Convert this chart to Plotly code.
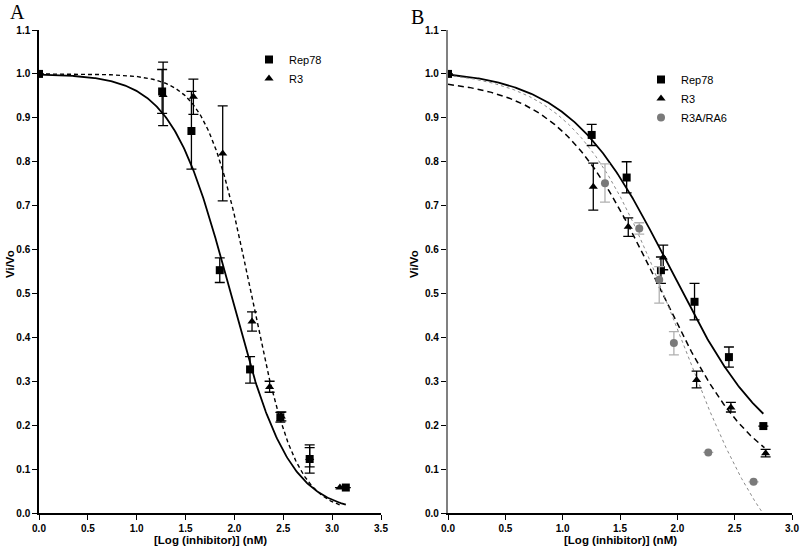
import numpy as np
import plotly.graph_objects as go

# ---------------- data: panel A ----------------
a_rep78_x = [0.0, 1.26, 1.56, 1.85, 2.16, 2.47, 2.77, 3.14]
a_rep78_y = [1.0, 0.96, 0.87, 0.553, 0.327, 0.218, 0.123, 0.058]
a_rep78_eu = [0, 0.05, 0.09, 0.028, 0.029, 0.011, 0.032, 0]
a_rep78_ed = [0, 0.05, 0.087, 0.028, 0.031, 0.011, 0.032, 0]

a_r3_x = [1.27, 1.58, 1.88, 2.18, 2.36, 2.48, 2.77, 3.08]
a_r3_y = [0.952, 0.948, 0.819, 0.436, 0.287, 0.22, 0.125, 0.058]
a_r3_eu = [0.075, 0.04, 0.108, 0.022, 0.013, 0.01, 0.024, 0]
a_r3_ed = [0.07, 0.04, 0.108, 0.022, 0.012, 0.01, 0.02, 0]

# fitted sigmoid parameters [bottom, top, logIC50, hill] and curve extent
a_rep78_fit = [0.0, 1.0, 1.96, 1.45]
a_rep78_xmax = 3.14
a_r3_fit = [0.0, 1.0, 2.17, 1.9]
a_r3_xmax = 3.08

# ---------------- data: panel B ----------------
b_rep78_x = [0.0, 1.253, 1.558, 1.857, 2.15, 2.45, 2.75]
b_rep78_y = [1.0, 0.861, 0.764, 0.553, 0.481, 0.355, 0.198]
b_rep78_eu = [0, 0.024, 0.036, 0.03, 0.042, 0.023, 0]
b_rep78_ed = [0, 0.024, 0.035, 0.03, 0.041, 0.023, 0]

b_r3_x = [1.267, 1.572, 1.877, 2.168, 2.467, 2.77]
b_r3_y = [0.743, 0.652, 0.582, 0.303, 0.24, 0.136]
b_r3_eu = [0.054, 0.02, 0.028, 0.02, 0.012, 0.009]
b_r3_ed = [0.053, 0.022, 0.028, 0.018, 0.01, 0.008]

b_ra_x = [1.369, 1.668, 1.842, 1.97, 2.27, 2.665]
b_ra_y = [0.751, 0.648, 0.531, 0.387, 0.138, 0.071]
b_ra_eu = [0.044, 0.013, 0.03, 0.026, 0, 0]
b_ra_ed = [0.043, 0.013, 0.053, 0.027, 0, 0]

b_rep78_fit = [0.1, 1.01, 1.94, 0.98]
b_rep78_xmax = 2.75
b_r3_fit = [0.05, 0.99, 1.83, 1.0]
b_r3_xmax = 2.76
b_ra_fit = [-0.2, 1.01, 2.02, 0.97]
b_ra_xmax = 2.735

x_ticks_a = [0.0, 0.5, 1.0, 1.5, 2.0, 2.5, 3.0, 3.5]
x_ticks_b = [0.0, 0.5, 1.0, 1.5, 2.0, 2.5, 3.0]
y_ticks = [0.0, 0.1, 0.2, 0.3, 0.4, 0.5, 0.6, 0.7, 0.8, 0.9, 1.0, 1.1]


def sigmoid(params, xmax):
    b, t, c, h = params
    xs = np.linspace(0, xmax, 300)
    return xs, b + (t - b) / (1 + 10 ** ((xs - c) * h))


FONT = "Liberation Sans, Arial, Helvetica, sans-serif"
fig = go.Figure()


def add_curve(params, xmax, xa, ya, color, width, dash):
    xs, ys = sigmoid(params, xmax)
    fig.add_trace(go.Scatter(x=xs, y=ys, mode="lines", xaxis=xa, yaxis=ya,
                             line=dict(color=color, width=width, dash=dash),
                             showlegend=False, hoverinfo="skip"))


def add_points(x, y, eu, ed, name, symbol, size, color, ecolor, xa, ya, legend):
    fig.add_trace(go.Scatter(
        x=x, y=y, mode="markers", name=name, xaxis=xa, yaxis=ya, legend=legend,
        marker=dict(symbol=symbol, size=size, color=color, line=dict(width=0)),
        error_y=dict(type="data", symmetric=False, array=eu, arrayminus=ed,
                     color=ecolor, thickness=1.3, width=5)))


# panel A
add_curve(a_rep78_fit, a_rep78_xmax, "x", "y", "black", 1.8, "solid")
add_curve(a_r3_fit, a_r3_xmax, "x", "y", "black", 1.4, "4px,3px")
add_points(a_rep78_x, a_rep78_y, a_rep78_eu, a_rep78_ed, "Rep78", "square", 8,
           "black", "black", "x", "y", "legend")
add_points(a_r3_x, a_r3_y, a_r3_eu, a_r3_ed, "R3", "triangle-up", 8,
           "black", "black", "x", "y", "legend")

# panel B
add_curve(b_rep78_fit, b_rep78_xmax, "x2", "y2", "black", 1.8, "solid")
add_curve(b_r3_fit, b_r3_xmax, "x2", "y2", "black", 1.5, "6px,4px")
add_curve(b_ra_fit, b_ra_xmax, "x2", "y2", "#8a8a8a", 1.0, "dot")
add_points(b_rep78_x, b_rep78_y, b_rep78_eu, b_rep78_ed, "Rep78", "square", 8,
           "black", "black", "x2", "y2", "legend2")
add_points(b_r3_x, b_r3_y, b_r3_eu, b_r3_ed, "R3", "triangle-up", 8,
           "black", "black", "x2", "y2", "legend2")
add_points(b_ra_x, b_ra_y, b_ra_eu, b_ra_ed, "R3A/RA6", "circle", 8,
           "#7a7a7a", "#b0b0b0", "x2", "y2", "legend2")

W, H = 800, 550
tickfont = dict(family=FONT, size=10, color="black", weight="bold")


def xax(domain, rng, ticks, anchor):
    return dict(domain=domain, range=rng, anchor=anchor, tickvals=ticks,
                ticktext=[f"{v:.1f}" for v in ticks], showgrid=False,
                zeroline=False, showline=True, linecolor="black", linewidth=1.5,
                ticks="outside", ticklen=5, tickwidth=1.2, tickcolor="black",
                tickfont=tickfont, automargin=False, fixedrange=True)


def yax(domain, anchor, lcolor, lwidth):
    return dict(domain=domain, range=[0, 1.1], anchor=anchor, tickvals=y_ticks,
                ticktext=[f"{v:.1f}" for v in y_ticks], showgrid=False,
                zeroline=False, showline=True, linecolor=lcolor, linewidth=lwidth,
                ticks="outside", ticklen=5, tickwidth=1.2, tickcolor="black",
                tickfont=tickfont, automargin=False, fixedrange=True)


ydom = [1 - 513 / H, 1 - 30 / H]
fig.update_layout(
    width=W, height=H, template="none",
    paper_bgcolor="white", plot_bgcolor="white",
    margin=dict(l=0, r=0, t=0, b=0),
    font=dict(family=FONT, color="black"),
    xaxis=xax([39 / W, 381 / W], [0, 3.5], x_ticks_a, "y"),
    yaxis=yax(ydom, "x", "black", 1.5),
    xaxis2=xax([448 / W, 792 / W], [0, 3.0], x_ticks_b, "y2"),
    yaxis2=yax(ydom, "x2", "#808080", 2.2),
    legend=dict(x=249 / W, y=1 - 45 / H, xanchor="left", yanchor="top",
                bgcolor="rgba(0,0,0,0)", itemwidth=30,
                font=dict(family=FONT, size=11, color="black"), tracegroupgap=0),
    legend2=dict(x=641 / W, y=1 - 65 / H, xanchor="left", yanchor="top",
                 bgcolor="rgba(0,0,0,0)", itemwidth=30,
                 font=dict(family=FONT, size=11, color="black"), tracegroupgap=0),
    showlegend=True,
)

titlefont = dict(family=FONT, size=11.5, color="black", weight="bold")
annotations = [
    dict(text="[Log (inhibitor)] (nM)", x=210 / W, y=1 - 540 / H, xref="paper",
         yref="paper", showarrow=False, font=titlefont, xanchor="center", yanchor="middle"),
    dict(text="[Log (inhibitor)] (nM)", x=620 / W, y=1 - 540 / H, xref="paper",
         yref="paper", showarrow=False, font=titlefont, xanchor="center", yanchor="middle"),
    dict(text="Vi/Vo", x=10 / W, y=1 - 264 / H, xref="paper", yref="paper",
         showarrow=False, font=titlefont, textangle=-90, xanchor="center", yanchor="middle"),
    dict(text="Vi/Vo", x=414 / W, y=1 - 264 / H, xref="paper", yref="paper",
         showarrow=False, font=titlefont, textangle=-90, xanchor="center", yanchor="middle"),
    dict(text="A", x=17 / W, y=1 - 12 / H, xref="paper", yref="paper", showarrow=False,
         font=dict(family="Liberation Serif, Times New Roman, serif", size=20, color="black"),
         xanchor="center", yanchor="middle"),
    dict(text="B", x=417 / W, y=1 - 17 / H, xref="paper", yref="paper", showarrow=False,
         font=dict(family="Liberation Serif, Times New Roman, serif", size=20, color="black"),
         xanchor="center", yanchor="middle"),
]
fig.update_layout(annotations=annotations)

fig.write_html("out.html", config={"displayModeBar": False},
               post_script="document.body.style.margin='0';"
                           "document.body.style.overflow='hidden';")
